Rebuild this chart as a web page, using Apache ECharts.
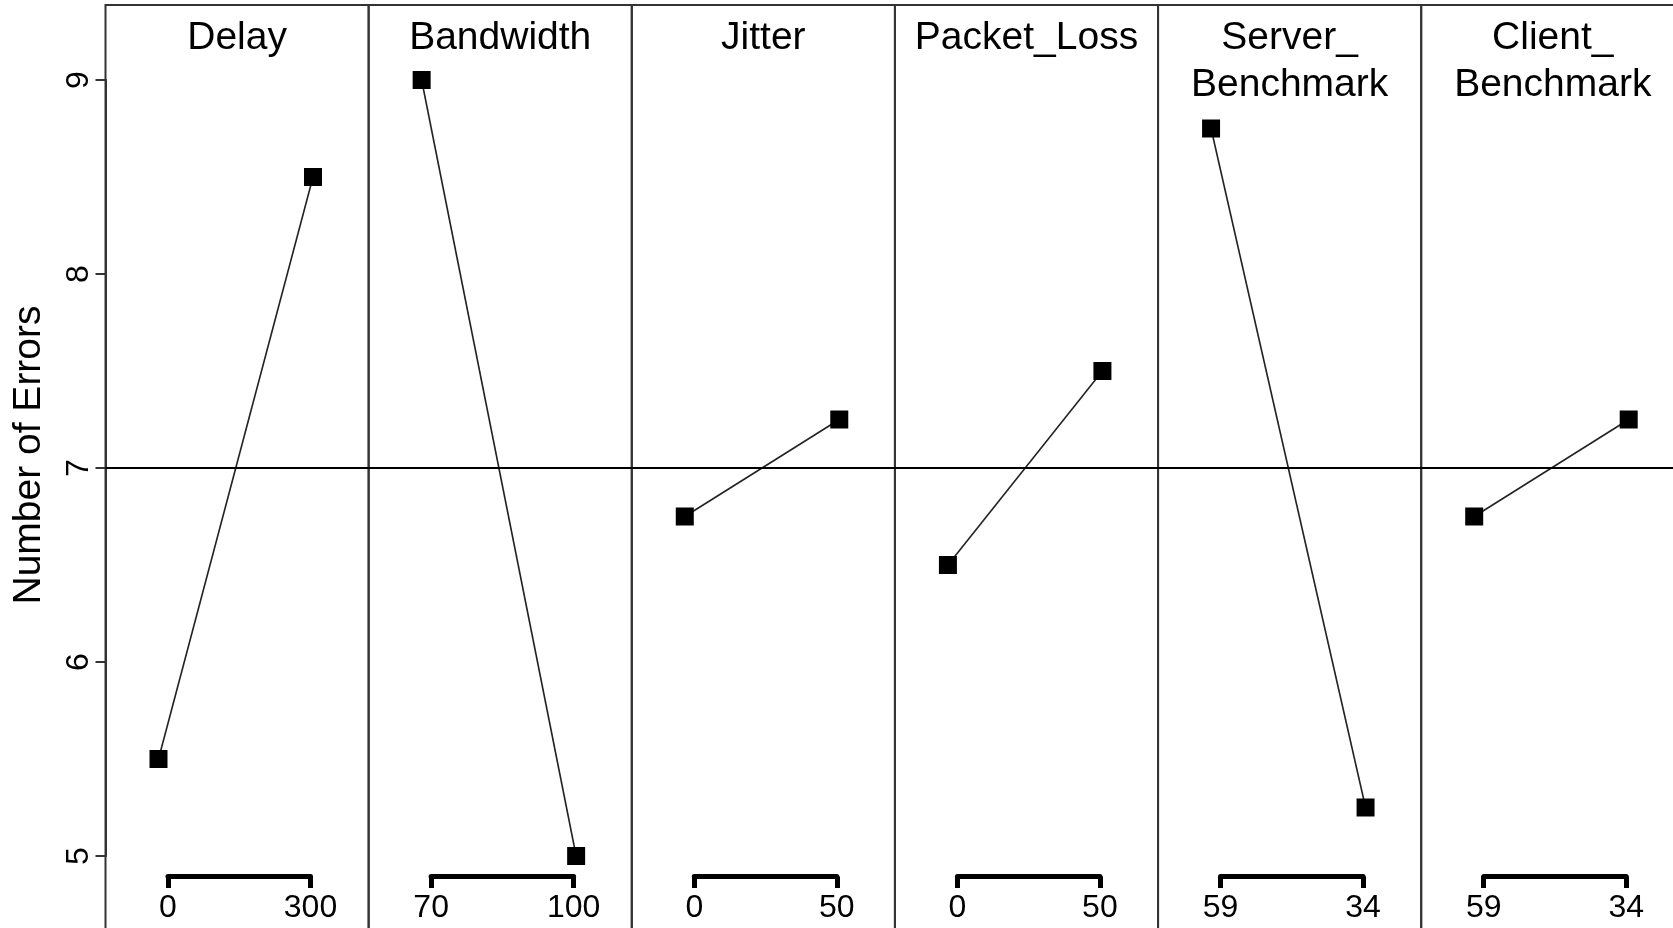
<!DOCTYPE html>
<html><head><meta charset="utf-8">
<script src="https://cdn.jsdelivr.net/npm/echarts@6/dist/echarts.min.js"></script>
<style>html,body{margin:0;padding:0;background:#fff}#c{width:1673px;height:928px}</style>
</head><body><div id="c"></div>
<script>
// ---- data ----
const factors = ['Delay', 'Bandwidth', 'Jitter', 'Packet_Loss', 'Server_\nBenchmark', 'Client_\nBenchmark'];
const lowLevels = ['0', '70', '0', '0', '59', '59'];
const highLevels = ['300', '100', '50', '50', '34', '34'];
const lowMeans = [5.5, 9.0, 6.75, 6.5, 8.75, 6.75];
const highMeans = [8.5, 5.0, 7.25, 7.5, 5.25, 7.25];
const yTickMin = 5, yTickMax = 9, yTickStep = 1;
const grandMean = 7;
const yTitle = 'Number of Errors';

// ---- layout ----
const FONT = '"Liberation Sans", Arial, Helvetica, sans-serif';
const PLOT_LEFT = 105.5, PANEL_W = 263.14, PLOT_TOP = 5;
const PX_PER_UNIT = 194, Y9_PX = 80;
const Y_MIN = 4, Y_MAX = 9 + (Y9_PX - PLOT_TOP) / PX_PER_UNIT;
const GRID_H = (Y_MAX - Y_MIN) * PX_PER_UNIT;
const MARK_L = 53, MARK_R = 207.5;
const BR_L = 62.5, BR_R = 205, BR_Y = 876.5;
const TITLE_LH = 47;

const grid = [], xAxis = [], yAxis = [], series = [], graphic = [];
const n = factors.length;
for (let i = 0; i < n; i++) {
  const left = PLOT_LEFT + i * PANEL_W;
  grid.push({ left: left, top: PLOT_TOP, width: PANEL_W, height: GRID_H, show: true, outerBoundsMode: 'none',
    containLabel: false, borderColor: '#333', borderWidth: 2, backgroundColor: 'transparent' });
  const span = MARK_R - MARK_L;
  xAxis.push({ gridIndex: i, type: 'value', min: -MARK_L / span, max: (PANEL_W - MARK_L) / span, show: false });
  yAxis.push({ gridIndex: i, type: 'value', min: Y_MIN, max: Y_MAX, show: false });
  series.push({ type: 'line', xAxisIndex: i, yAxisIndex: i,
    data: [[0, lowMeans[i]], [1, highMeans[i]]],
    symbol: 'rect', symbolSize: 18, itemStyle: { color: '#000' },
    lineStyle: { color: '#222', width: 1.6 }, animation: false, z: 3,
    markLine: { silent: true, symbol: ['none', 'none'], label: { show: false },
      lineStyle: { color: '#000', width: 2, type: 'solid' }, data: [{ yAxis: grandMean }], animation: false } });
  graphic.push({ type: 'text', x: left + PANEL_W / 2, y: 37.8 - TITLE_LH / 2,
    style: { text: factors[i], fill: '#000', font: '39px ' + FONT, align: 'center', verticalAlign: 'top', lineHeight: TITLE_LH } });
}
for (let i = 0; i < n; i++) {
  const left = PLOT_LEFT + i * PANEL_W;
  grid.push({ left: left + BR_L, width: BR_R - BR_L, top: BR_Y - 20, height: 20, outerBoundsMode: 'none', containLabel: false });
  xAxis.push({ gridIndex: n + i, type: 'category', data: [lowLevels[i], highLevels[i]], boundaryGap: false,
    axisLine: { show: true, lineStyle: { color: '#000', width: 5 } },
    axisTick: { show: true, interval: 0, length: 11.5, lineStyle: { color: '#000', width: 5 } },
    axisLabel: { interval: 0, fontSize: 32, margin: 16, color: '#000', fontFamily: FONT },
    splitLine: { show: false } });
  yAxis.push({ gridIndex: n + i, type: 'value', show: false, min: 0, max: 1 });
}
// axis-only grid for the left value axis (spans 5..9 exactly)
grid.push({ left: PLOT_LEFT, width: PANEL_W, top: Y9_PX, height: (yTickMax - yTickMin) * PX_PER_UNIT,
  outerBoundsMode: 'none', containLabel: false });
xAxis.push({ gridIndex: 2 * n, type: 'value', show: false, min: 0, max: 1 });
yAxis.push({ gridIndex: 2 * n, type: 'value', min: yTickMin, max: yTickMax, interval: yTickStep,
  axisLine: { show: true, lineStyle: { color: '#333', width: 2 } },
  axisTick: { show: true, length: 10, lineStyle: { color: '#333', width: 2 } },
  axisLabel: { rotate: 90, fontSize: 32, margin: 10, color: '#000', fontFamily: FONT },
  splitLine: { show: false } });

graphic.push({ type: 'text', x: 29, y: 455, rotation: Math.PI / 2,
  style: { text: yTitle, fill: '#000', font: '39px ' + FONT, align: 'center', verticalAlign: 'middle' } });

const chart = echarts.init(document.getElementById('c'), null, { renderer: 'canvas' });
chart.setOption({ backgroundColor: '#fff', animation: false, grid, xAxis, yAxis, series, graphic });
</script></body></html>
